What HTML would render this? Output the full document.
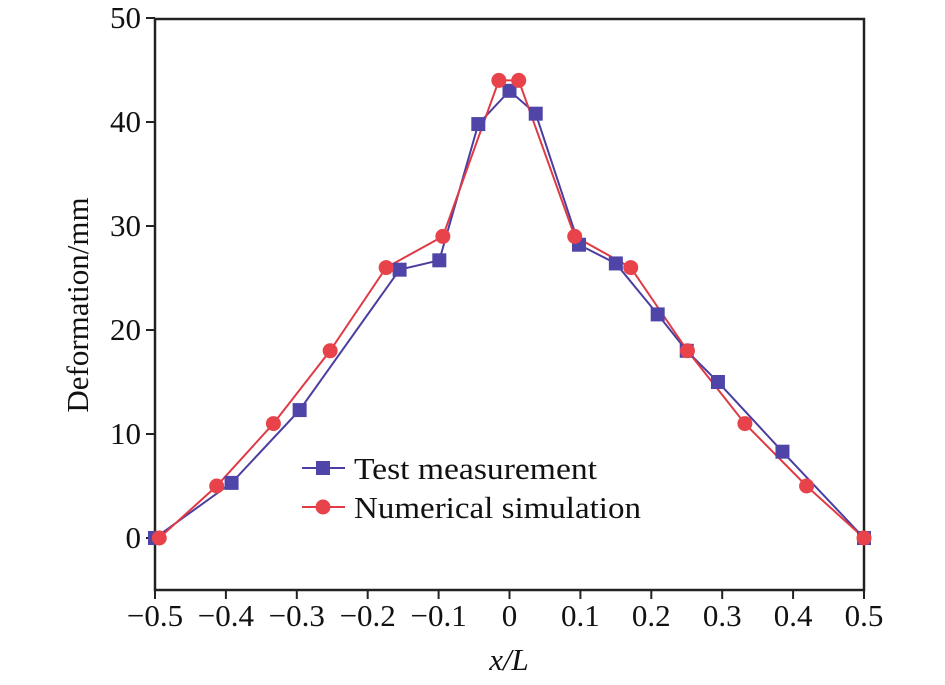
<!DOCTYPE html>
<html><head><meta charset="utf-8"><style>body{margin:0;background:#fff}svg{display:block}text{font-family:"Liberation Serif",serif;fill:#111}</style></head>
<body>
<svg id="chart" width="945" height="685" xmlns="http://www.w3.org/2000/svg">
<g id="axes"></g>
<g id="series"></g>
<g>
<line x1="302" y1="468" x2="345" y2="468" stroke="#4a3fa0" stroke-width="2"/>
<rect x="316" y="461" width="14" height="14" fill="#4f45a8"/>
<text x="354" y="479" font-size="31" textLength="243" lengthAdjust="spacingAndGlyphs">Test measurement</text>
<line x1="302" y1="507" x2="345" y2="507" stroke="#e03a45" stroke-width="2"/>
<circle cx="323" cy="507" r="7.5" fill="#e8434b"/>
<text x="354" y="518" font-size="31" textLength="287" lengthAdjust="spacingAndGlyphs">Numerical simulation</text>
</g>
<text x="509" y="670" font-size="31" text-anchor="middle" font-style="italic">x/L</text>
<text transform="translate(88,305) rotate(-90)" font-size="31" text-anchor="middle">Deformation/mm</text>
</svg>
<script>
const xTicks=[-0.5,-0.4,-0.3,-0.2,-0.1,0,0.1,0.2,0.3,0.4,0.5];
const xTickLabels=["\u22120.5","\u22120.4","\u22120.3","\u22120.2","\u22120.1","0","0.1","0.2","0.3","0.4","0.5"];
const yTicks=[0,10,20,30,40,50];
const testX=[-0.5,-0.392,-0.296,-0.155,-0.099,-0.044,0,0.037,0.098,0.150,0.209,0.250,0.294,0.385,0.5];
const testY=[0,5.3,12.3,25.8,26.7,39.8,43,40.8,28.2,26.4,21.5,18,15,8.3,0];
const simX=[-0.494,-0.413,-0.333,-0.253,-0.174,-0.094,-0.015,0.013,0.092,0.171,0.251,0.332,0.419,0.5];
const simY=[0,5,11,18,26,29,44,44,29,26,18,11,5,0];
const L=155,R=864,T=19,B=590;
const sx=v=>L+(v+0.5)*(R-L);
const sy=v=>538-v*10.4;
const NS="http://www.w3.org/2000/svg";
const ax=document.getElementById('axes'),se=document.getElementById('series');
function mk(tag,attrs,parent){const e=document.createElementNS(NS,tag);for(const k in attrs)e.setAttribute(k,attrs[k]);parent.appendChild(e);return e;}
const box=mk('rect',{x:L,y:T,width:R-L,height:B-T,fill:'none',stroke:'#222','stroke-width':2.5},ax);


xTicks.forEach((v,i)=>{
 const t=mk('line',{x1:sx(v),x2:sx(v),y1:B,y2:B+9,stroke:'#222','stroke-width':2},ax);
 
 
 const lb=mk('text',{x:sx(v),y:B+36,'font-size':31,'text-anchor':'middle'},ax);
 lb.textContent=xTickLabels[i];
 
 
});
yTicks.forEach(v=>{
 const t=mk('line',{x1:L-9,x2:L,y1:sy(v),y2:sy(v),stroke:'#222','stroke-width':2},ax);
 
 
 const lb=mk('text',{x:L-14,y:sy(v)+10,'font-size':31,'text-anchor':'end'},ax);
 lb.textContent=v;
 
 
});
const p1=mk('polyline',{points:testX.map((x,i)=>sx(x)+','+sy(testY[i])).join(' '),fill:'none',stroke:'#4a3fa0','stroke-width':2},se);


const p2=mk('polyline',{points:simX.map((x,i)=>sx(x)+','+sy(simY[i])).join(' '),fill:'none',stroke:'#e03a45','stroke-width':2},se);


testX.forEach((x,i)=>{
 const r=mk('rect',{x:sx(x)-7,y:sy(testY[i])-7,width:14,height:14,fill:'#4f45a8'},se);
 
 
});
simX.forEach((x,i)=>{
 const c=mk('circle',{cx:sx(x),cy:sy(simY[i]),r:7.5,fill:'#e8434b'},se);
 
 
});
</script>
</body></html>
